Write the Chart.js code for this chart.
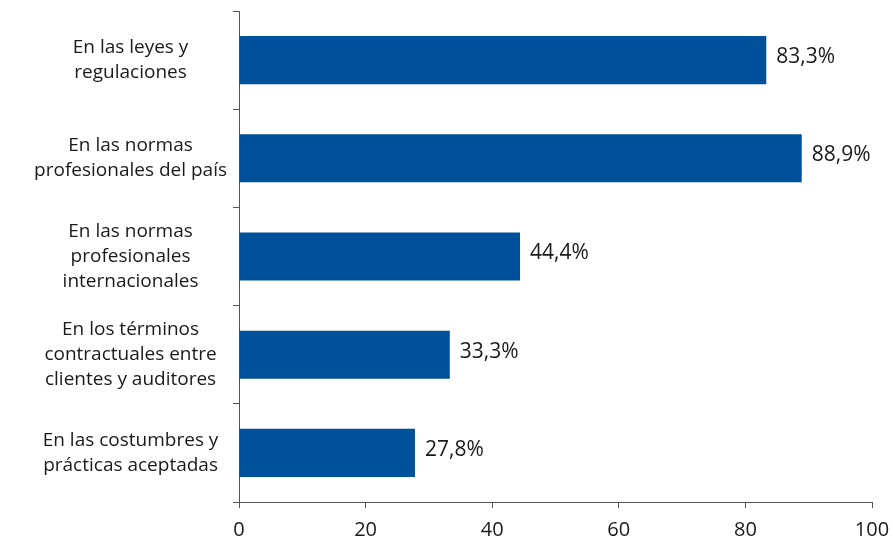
<!DOCTYPE html>
<html>
<head>
<meta charset="utf-8">
<script src="https://cdn.jsdelivr.net/npm/chart.js@4/dist/chart.umd.min.js"></script>
<style>
  html, body { margin: 0; padding: 0; background: #fff; }
  #wrap { width: 893px; height: 538px; }
</style>
</head>
<body>
<div id="wrap"><canvas id="chart" width="893" height="538"></canvas></div>
<script>
// categories (multi-line labels) and values
var categorias = [
	['En las leyes y', 'regulaciones'],
	['En las normas', 'profesionales del país'],
	['En las normas', 'profesionales', 'internacionales'],
	['En los términos', 'contractuales entre', 'clientes y auditores'],
	['En las costumbres y', 'prácticas aceptadas']
];
var valores = [83.3, 88.9, 44.4, 33.3, 27.8];
var ejeMin = 0;
var ejeMax = 100;
var ejePaso = 20;

var colorBarra = '#00519b';
var colorTexto = '#1a1a1a';
var colorEje = '#555555';
var fuente = '"Open Sans", "Noto Sans", sans-serif';

// etiquetas de valor al final de cada barra
var etiquetasValor = {
	id: 'etiquetasValor',
	afterDatasetsDraw: function(chart) {
		var ctx = chart.ctx;
		var meta = chart.getDatasetMeta(0);
		ctx.save();
		ctx.font = '21px ' + fuente;
		ctx.fillStyle = colorTexto;
		ctx.textAlign = 'left';
		ctx.textBaseline = 'middle';
		meta.data.forEach(function(bar, i) {
			var txt = valores[i].toFixed(1).replace('.', ',') + '%';
			ctx.fillText(txt, bar.x + 10, bar.y - 3);
		});
		ctx.restore();
	}
};

var chart = new Chart(document.getElementById('chart'), {
	type: 'bar',
	data: {
		labels: categorias,
		datasets: [{
			data: valores,
			backgroundColor: colorBarra,
			borderWidth: 0,
			barPercentage: 0.49,
			categoryPercentage: 1
		}]
	},
	options: {
		indexAxis: 'y',
		responsive: false,
		animation: false,
		layout: { padding: { top: 11, right: 21, bottom: 0, left: 0 } },
		plugins: {
			legend: { display: false },
			tooltip: { enabled: false }
		},
		scales: {
			x: {
				min: ejeMin,
				max: ejeMax,
				afterFit: function(scale) {
					scale.height = 36;
					scale.paddingLeft = 0;
					scale.paddingRight = 0;
				},
				ticks: {
					stepSize: ejePaso,
					color: colorTexto,
					font: { family: fuente, size: 20 },
					padding: 10
				},
				grid: {
					drawOnChartArea: false,
					drawTicks: true,
					tickLength: 6,
					color: colorEje
				},
				border: { display: true, color: colorEje, width: 1 }
			},
			y: {
				afterFit: function(scale) {
					scale.width = 239;
					scale.paddingTop = 0;
					scale.paddingBottom = 0;
				},
				ticks: {
					color: colorTexto,
					font: { family: fuente, size: 19, lineHeight: 1.32 },
					crossAlign: 'center',
					padding: 6
				},
				grid: {
					offset: true,
					drawOnChartArea: false,
					drawTicks: true,
					tickLength: 6,
					color: colorEje
				},
				border: { display: true, color: colorEje, width: 1 }
			}
		}
	},
	plugins: [etiquetasValor]
});
</script>
</body>
</html>
